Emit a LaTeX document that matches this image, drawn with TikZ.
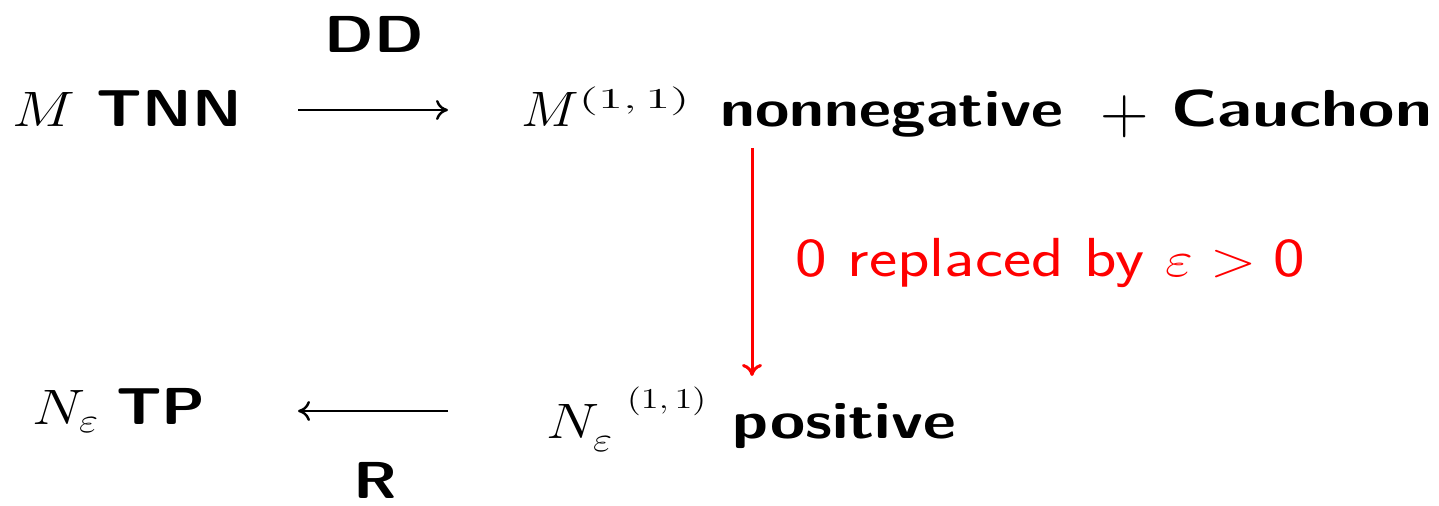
\documentclass[tikz,border=0pt]{standalone}
\usetikzlibrary{arrows.meta}
\newcommand\xs[2]{\scalebox{#1}[1]{#2}}
\newcommand\supsz[1]{\mbox{\fontsize{15}{18}\selectfont$#1$}}
\begin{document}
\begin{tikzpicture}[x=0.5pt,y=-0.5pt,
  lbl/.style={inner sep=0pt,font=\fontsize{26}{31}\selectfont\sffamily\bfseries},
  redlbl/.style={inner sep=0pt,red,font=\fontsize{27.5}{33}\selectfont\sffamily},
  arr/.style={line width=1.2pt,-{To[length=6pt,width=10pt]}},
  redarr/.style={line width=1.5pt,red,-{To[length=6pt,width=10pt]}}]
\useasboundingbox (0,0) rectangle (1439,506);
\node[lbl,anchor=base west] (a) at (12,127) {\xs{1.2}{$M$\hspace{9pt}TNN}};
\node[lbl,anchor=base west] (b) at (521,127)
  {\xs{1.1}{$M^{\xs{1.6}{\supsz{(1,1)}}}$}\hspace{15pt}\xs{1.2}{nonnegative}\hspace{18.5pt}\raisebox{-3.5pt}{\scalebox{1.35}{$+$}}\hspace{11.5pt}\xs{1.27}{Cauchon}};
\node[lbl,anchor=base] (dd) at (374,53) {\xs{1.2}{DD}};
\node[lbl,anchor=base west] (c) at (32,425) {\xs{1.2}{$N_\varepsilon$\hspace{7pt}TP}};
\node[lbl,anchor=base west] (d) at (546,439)
  {\xs{1.2}{$N^{\xs{1.05}{\hspace{11pt}\raisebox{6pt}{\supsz{(1,1)}}}}_\varepsilon$}\hspace{12.5pt}\xs{1.23}{positive}};
\node[lbl,anchor=base] (r) at (375,499) {\xs{1.2}{R}};
\node[redlbl,anchor=base west] (t) at (795,277) {\xs{1.22}{0 replaced by $\varepsilon > \mbox{0}$}};
\coordinate (a1) at (298,110);
\coordinate (a2) at (448,110);
\coordinate (c1) at (448,411);
\coordinate (c2) at (298,411);
\coordinate (v1) at (752,148);
\coordinate (v2) at (752,376);
\draw[arr] (a1) -- (a2);
\draw[arr] (c1) -- (c2);
\draw[redarr] (v1) -- (v2);
\end{tikzpicture}
\end{document}
